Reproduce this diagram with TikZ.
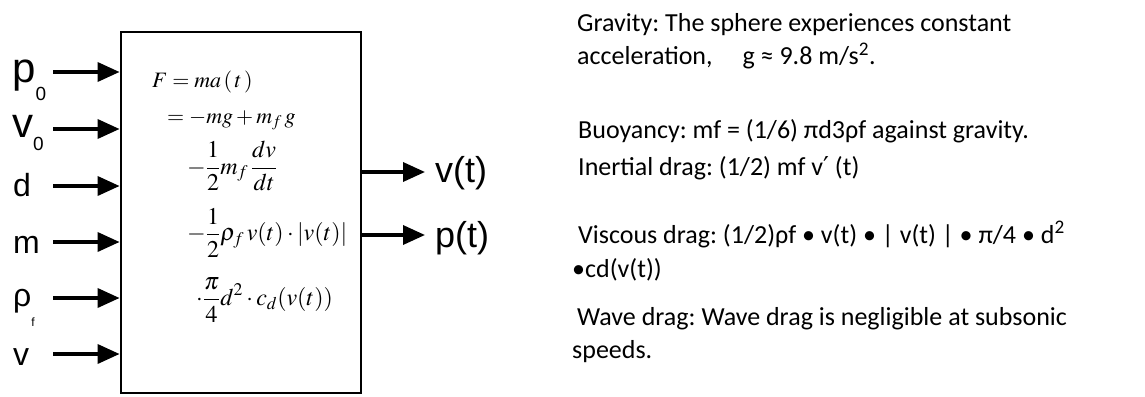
\documentclass[tikz,border=0pt]{standalone}
\usepackage{mathptmx}
\usepackage{fontspec}
\usetikzlibrary{arrows.meta}
\newfontfamily\arial{Liberation Sans}
\newfontfamily\calib{Carlito}
\newfontfamily\djv{DejaVu Sans}
\frenchspacing
\begin{document}
\frenchspacing
\begin{tikzpicture}[x=1pt,y=-1pt,
  inarrow/.style={line width=3.5pt,-{Triangle[length=22pt,width=19pt]}},
  lbl/.style={anchor=base west,inner sep=0pt,font=\arial\fontsize{32}{32}\selectfont},
  biglbl/.style={lbl,font=\arial\fontsize{42}{42}\selectfont},
  outlbl/.style={lbl,font=\arial\fontsize{36}{36}\selectfont},
  note/.style={anchor=base west,inner sep=0pt,font=\calib\fontsize{26}{26}\selectfont},
  eq/.style={anchor=base west,inner sep=0pt,font=\fontsize{22}{26}\selectfont},
  eqf/.style={anchor=west,inner sep=0pt,font=\fontsize{24}{28}\selectfont},
]
\useasboundingbox[fill=white] (0,0) rectangle (1145,396);
\node[draw,line width=2.8pt,minimum width=240pt,minimum height=361pt,inner sep=0pt] (box) at (241,212.5) {};

% input labels
\node[biglbl] (lp) at (12,82) {p\raisebox{-18pt}{\fontsize{19}{19}\selectfont 0}};
\node[biglbl] (lv0) at (12,137) {v\raisebox{-13pt}{\fontsize{19}{19}\selectfont 0}};
\node[lbl] (ld) at (13,196) {d};
\node[lbl] (lm) at (13,253) {m};
\node[lbl] (lr) at (13,306) {ρ\raisebox{-20pt}{\fontsize{12}{12}\selectfont f}};
\node[lbl] (lv) at (13,365) {v};

% input arrows
\coordinate (a1) at (53,72);
\coordinate (a2) at (53,129);
\coordinate (a3) at (53,186);
\coordinate (a4) at (53,242);
\coordinate (a5) at (53,298);
\coordinate (a6) at (53,354);
\foreach \c in {a1,a2,a3,a4,a5,a6}{
  \draw[inarrow] (\c) -- (box.west |- \c);
}

% equations
\node[eq] (e1) at (152,87) {$F = ma\,(\,t\,)$};
\node[eq] (e2) at (167,123) {$= -mg + m_f\,g$};
\node[eqf] (e3) at (187,166) {$\displaystyle-\frac{1}{2}m_f\,\frac{dv}{dt}$};
\node[eqf] (e4) at (187,233) {$\displaystyle-\frac{1}{2}\rho_f\,v(t)\cdot|v(t)|$};
\node[eqf] (e5) at (196,300) {$\displaystyle\cdot\frac{\pi}{4}d^2\cdot c_d(v(t))$};

% outputs
\node[outlbl] (vt) at (435,182) {v(t)};
\node[outlbl] (pt) at (435,247) {p(t)};
\coordinate (o1) at (425,172);
\coordinate (o2) at (425,235);
\draw[inarrow] (box.east |- o1) -- (o1);
\draw[inarrow] (box.east |- o2) -- (o2);

% notes
\node[note] (n1) at (577,32) {Gravity: The sphere experiences constant};
\node[note] (n2) at (577,65) {acceleration,\hspace{30pt}g ≈ 9.8 m/s\textsuperscript{2}.};
\node[note] (n3) at (578,138) {Buoyancy: mf = (1/6) πd3ρf against gravity.};
\node[note] (n4) at (578,175) {Inertial drag: (1/2) mf v{\djv ′} (t)};
\node[note] (n5) at (578,243) {Viscous drag: (1/2)ρf • v(t) • | v(t) | • π/4 • d\textsuperscript{2}};
\node[note] (n6) at (572,277) {•cd(v(t))};
\node[note] (n7) at (577,325) {Wave drag: Wave drag is negligible at subsonic};
\node[note] (n8) at (572,358) {speeds.};
\end{tikzpicture}
\end{document}
